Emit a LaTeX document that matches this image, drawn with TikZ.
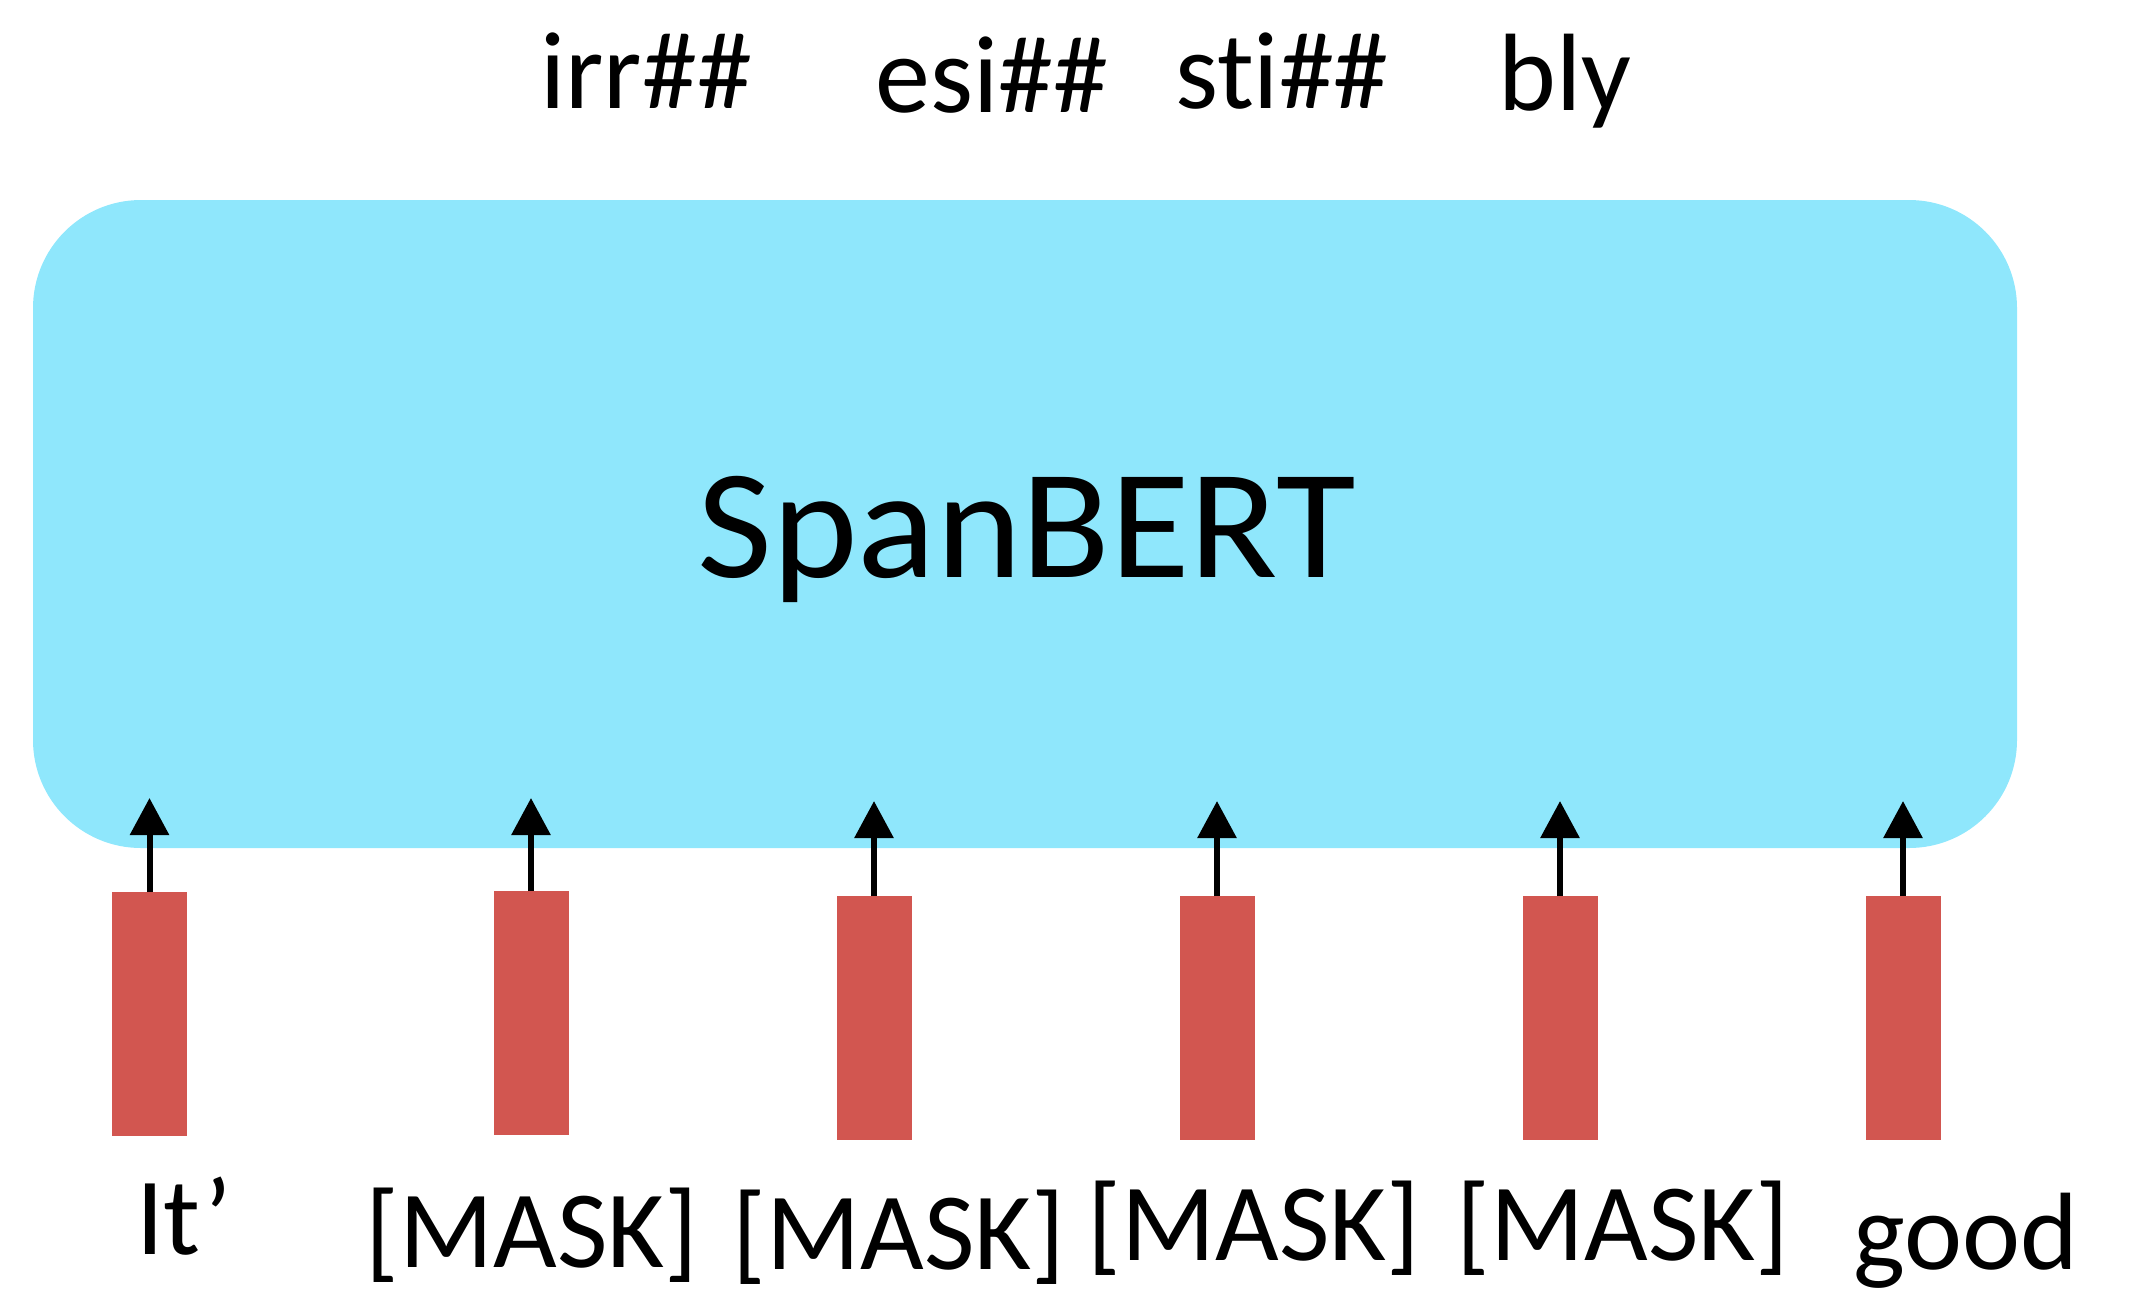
\documentclass[tikz,border=0pt]{standalone}
\usepackage{fontspec}
\setmainfont[Ligatures={NoCommon,NoRare,NoDiscretionary}]{Carlito}
\usetikzlibrary{arrows.meta}
\definecolor{bertcyan}{HTML}{8FE7FC}
\definecolor{barred}{HTML}{D25650}
\begin{document}
\begin{tikzpicture}[x=0.5pt,y=-0.5pt,
  lbl/.style={anchor=base,inner sep=0pt,font=\fontsize{55pt}{60pt}\selectfont},
  emb/.style={fill=barred,draw=none,inner sep=0pt,minimum width=37.5pt,minimum height=122pt,anchor=north},
  up/.style={line width=3pt,-{Triangle[length=18.5pt,width=19pt]}}]
\useasboundingbox (0,0) rectangle (2130,1312);
% SpanBERT box
\node[fill=bertcyan,draw=none,rounded corners=54pt,inner sep=0pt,
      minimum width=992pt,minimum height=324pt] (bert) at (1025,524) {};
\node[anchor=base,inner sep=0pt,xscale=1.045,font=\fontsize{78pt}{84pt}\selectfont] (bertlabel) at (1027,577) {SpanBERT};
% output tokens
\node[lbl] (o1) at (646,108) {irr\#\#};
\node[lbl] (o2) at (992,112) {esi\#\#};
\node[lbl] (o3) at (1282,108) {sti\#\#};
\node[lbl] (o4) at (1565,110) {bly};
% embedding bars
\node[emb] (b1) at (149.5,892) {};
\node[emb] (b2) at (531,891) {};
\node[emb] (b3) at (874,896) {};
\node[emb] (b4) at (1217,896) {};
\node[emb] (b5) at (1560,896) {};
\node[emb] (b6) at (1903,896) {};
% arrow tips
\coordinate (t1) at (149.5,798);
\coordinate (t2) at (531,798);
\coordinate (t3) at (874,801);
\coordinate (t4) at (1217,801);
\coordinate (t5) at (1560,801);
\coordinate (t6) at (1903,801);
\foreach \i in {1,...,6}{\draw[up] (b\i.north) -- (t\i);}
% input tokens
\node[lbl] (i1) at (184,1254) {It’};
\node[lbl] (i2) at (532,1267) {[MASK]};
\node[lbl] (i3) at (899,1269) {[MASK]};
\node[lbl] (i4) at (1254,1260) {[MASK]};
\node[lbl] (i5) at (1623,1260) {[MASK]};
\node[lbl] (i6) at (1966,1269) {good};
\end{tikzpicture}
\end{document}
